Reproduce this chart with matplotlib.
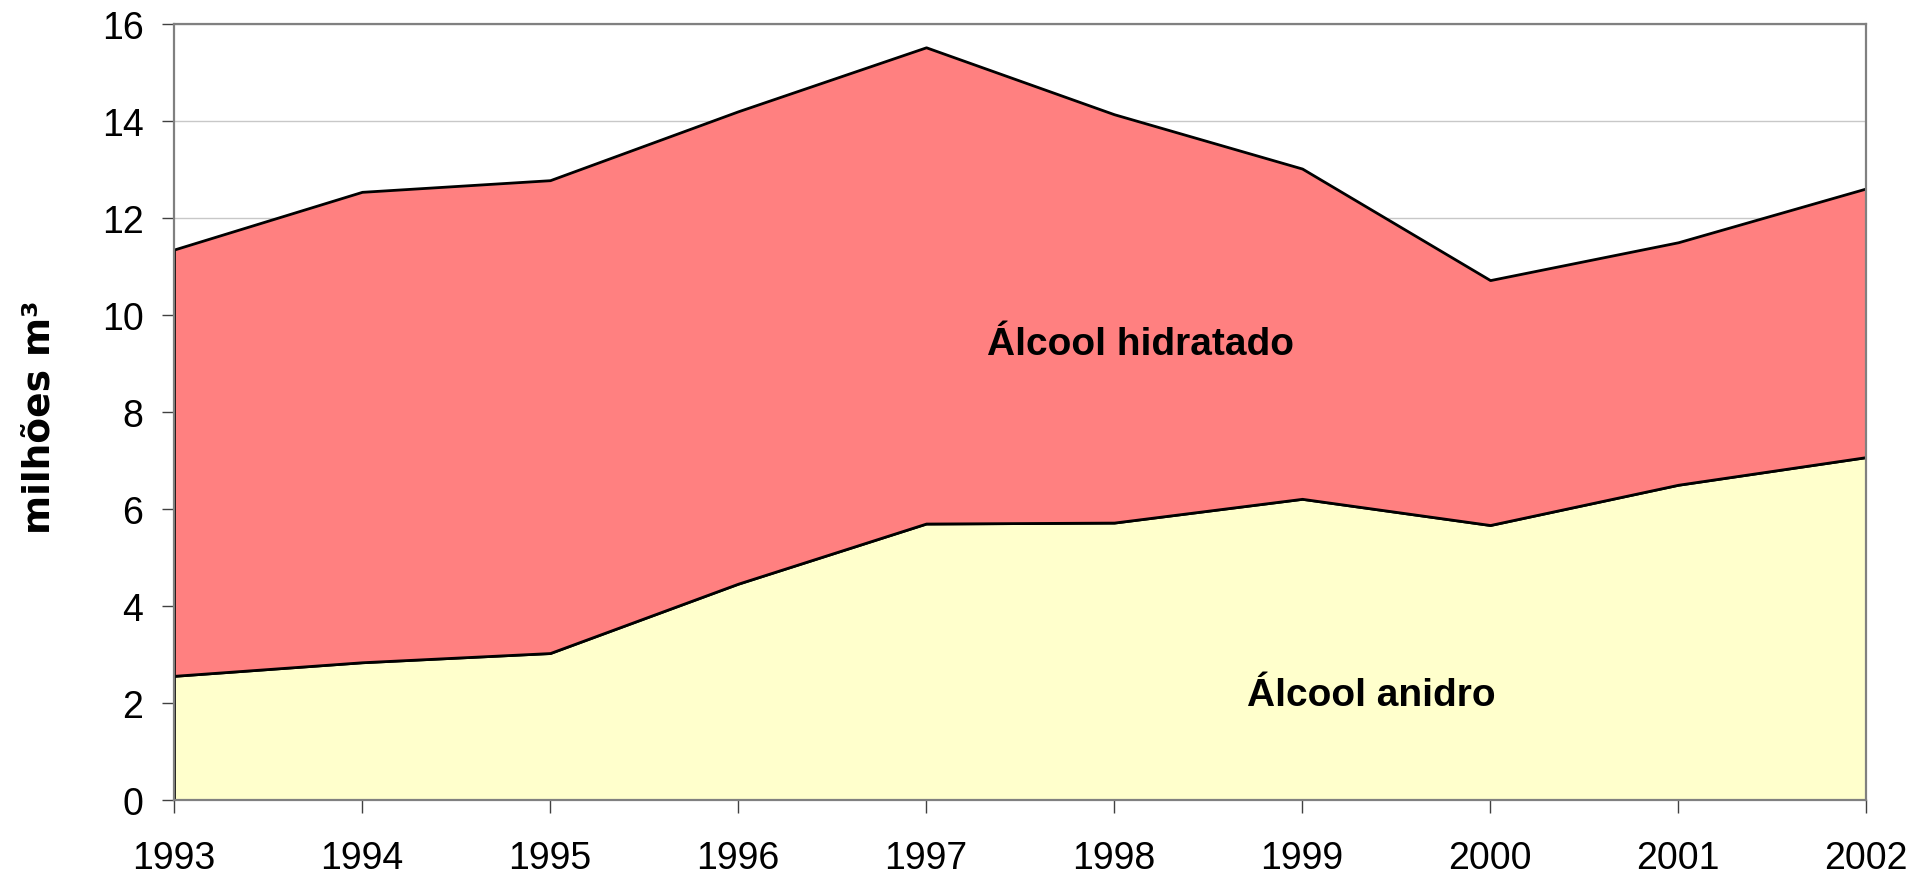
import numpy as np
import matplotlib
matplotlib.use('Agg')
import matplotlib.pyplot as plt

# consumo de álcool combustível, milhões m3
years = [1993, 1994, 1995, 1996, 1997, 1998, 1999, 2000, 2001, 2002]
anidro = [2.56, 2.84, 3.03, 4.46, 5.70, 5.72, 6.21, 5.67, 6.50, 7.07]
total = [11.35, 12.54, 12.78, 14.20, 15.52, 14.14, 13.02, 10.72, 11.50, 12.61]
yticks = [0, 2, 4, 6, 8, 10, 12, 14, 16]

plt.rcParams['font.family'] = ['Liberation Sans', 'DejaVu Sans']

fig = plt.figure(figsize=(19.14, 8.78), dpi=100)
ax = fig.add_axes([0.0909, 0.0877, 0.975 - 0.0909, 0.9715 - 0.0877])

ax.fill_between(years, 0, anidro, facecolor='#FFFFCC', edgecolor='black',
                linewidth=2.0, zorder=2)
ax.fill_between(years, anidro, total, facecolor='#FF8080', edgecolor='black',
                linewidth=2.0, zorder=2)

ax.set_xlim(years[0], years[-1])
ax.set_ylim(0, 16)
ax.set_xticks(years)
ax.set_yticks(yticks)
ax.yaxis.grid(True, color='#c8c8c8', linewidth=1, zorder=0)
ax.set_axisbelow(True)

for s in ax.spines.values():
    s.set_color('#808080')
    s.set_linewidth(1.6)

ax.tick_params(axis='x', direction='out', length=9, width=1, color='#404040',
               labelsize=27, pad=20)
ax.tick_params(axis='y', direction='out', length=9, width=1, color='#404040',
               labelsize=27, pad=13)

ax.set_ylabel('milhões m³', fontsize=27, fontweight='bold',
              family=['DejaVu Sans'])
ax.yaxis.set_label_coords(-0.069, 0.494)

ax.text(1998.14, 9.4, 'Álcool hidratado', fontsize=28, fontweight='bold',
        ha='center', va='center', zorder=3)
ax.text(1999.37, 2.16, 'Álcool anidro', fontsize=28, fontweight='bold',
        ha='center', va='center', zorder=3)

fig.savefig('out.png', dpi=100)
